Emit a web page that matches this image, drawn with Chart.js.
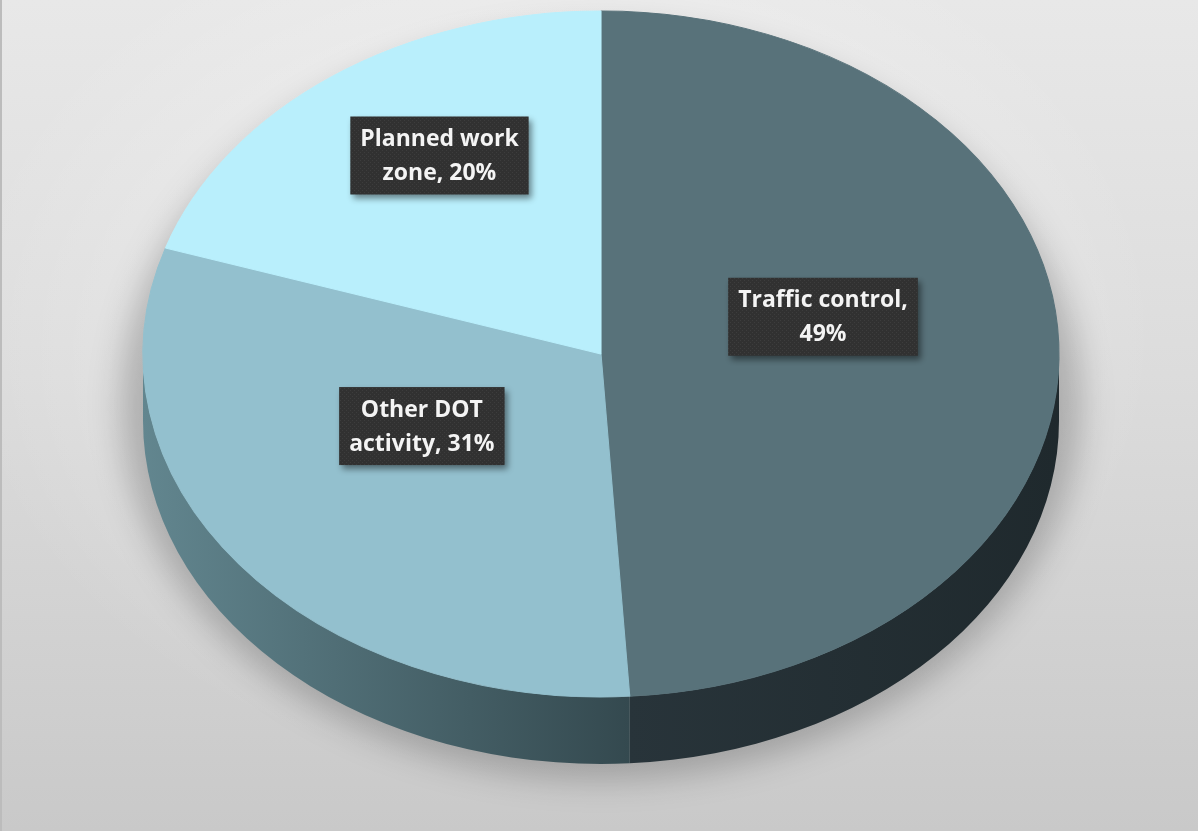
<!DOCTYPE html>
<html>
<head>
<meta charset="utf-8">
<title>Work zone share</title>
<script src="https://cdn.jsdelivr.net/npm/chart.js@4.4.1/dist/chart.umd.min.js"></script>
<style>
  html, body { margin: 0; padding: 0; }
  body {
    width: 1198px; height: 831px; overflow: hidden;
    background:
      radial-gradient(ellipse 600px 450px at 560px 330px, rgba(255,255,255,0.55), rgba(255,255,255,0) 100%),
      linear-gradient(to bottom, #e8e8e8 0%, #dcdcdc 45%, #c9c9c9 100%);
  }
  #wrap { position: relative; width: 1198px; height: 831px; }
  #wrap::before { content: ''; position: absolute; left: 0; top: 0; bottom: 0; width: 2px; background: #bcbcbc; }
</style>
</head>
<body>
<div id="wrap"><canvas id="pie"></canvas></div>
<script>
const categories = ['Traffic control', 'Other DOT activity', 'Planned work zone'];
const shares = [49, 31, 20];
const topColors = ['#58727a', '#93c0ce', '#b9effc'];
const wallColors = [['#28343a', '#1f292d'], ['#62868f', '#34494f'], ['#8fc7d6', '#8fc7d6']];

// top face ellipse and pie thickness (px)
const EX = 601, EY = 354, RX = 458, RY = 343, DEPTH = 67;
// label anchor: fraction of radius along the mid angle, plus a lift for the tilt
const LABEL_FRAC = [0.485, 0.495, 0.6];
const LABEL_LIFT = -32;

const FONT = 'bold 23px "Open Sans", sans-serif';

// dotted fill for the label boxes
const tex = document.createElement('canvas');
tex.width = 4; tex.height = 4;
const tctx = tex.getContext('2d');
tctx.fillStyle = '#313131'; tctx.fillRect(0, 0, 4, 4);
tctx.fillStyle = '#3d3d3d'; tctx.fillRect(0, 0, 1, 1); tctx.fillRect(2, 2, 1, 1);

function drawWall(ctx, a0, a1, fill) {
  // only the front half of the rim shows
  const s = Math.max(a0, 0), e = Math.min(a1, Math.PI);
  if (e <= s) return;
  ctx.beginPath();
  ctx.ellipse(EX, EY, RX, RY, 0, s, e);
  ctx.lineTo(EX + RX * Math.cos(e), EY + DEPTH + RY * Math.sin(e));
  ctx.ellipse(EX, EY + DEPTH, RX, RY, 0, e, s, true);
  ctx.closePath();
  ctx.fillStyle = fill;
  ctx.fill();
}

function wrap(ctx, text, maxW) {
  const words = text.split(' ');
  const lines = [];
  let cur = '';
  for (const w of words) {
    const test = cur ? cur + ' ' + w : w;
    if (cur && ctx.measureText(test).width > maxW) {
      lines.push(cur);
      cur = w;
    } else {
      cur = test;
    }
  }
  if (cur) lines.push(cur);
  return lines;
}

const pie3d = {
  id: 'pie3d',
  beforeDatasetsDraw(chart) {
    const ctx = chart.ctx;
    const arcs = chart.getDatasetMeta(0).data;

    // soft floor shadow
    ctx.save();
    ctx.filter = 'blur(16px)';
    ctx.fillStyle = 'rgba(0,0,0,0.22)';
    ctx.beginPath();
    ctx.ellipse(EX, EY + 50, RX + 22, RY + 32, 0, 0, Math.PI * 2);
    ctx.fill();
    ctx.restore();

    // rim
    arcs.forEach((arc, i) => {
      const p = arc.getProps(['startAngle', 'endAngle'], true);
      const xEnd = EX + RX * Math.cos(Math.min(p.endAngle, Math.PI));
      const xStart = EX + RX * Math.cos(Math.max(p.startAngle, 0));
      const g = ctx.createLinearGradient(Math.min(xStart, xEnd), 0, Math.max(xStart, xEnd), 0);
      g.addColorStop(0, wallColors[i][0]);
      g.addColorStop(1, wallColors[i][1]);
      drawWall(ctx, p.startAngle, p.endAngle, g);
    });

    // squash the round pie onto the top ellipse
    const a = arcs[0];
    ctx.save();
    ctx.translate(EX, EY);
    ctx.scale(RX / a.outerRadius, RY / a.outerRadius);
    ctx.translate(-a.x, -a.y);
  },
  afterDatasetsDraw(chart) {
    const ctx = chart.ctx;
    ctx.restore();

    const arcs = chart.getDatasetMeta(0).data;
    ctx.save();
    ctx.font = FONT;
    arcs.forEach((arc, i) => {
      const p = arc.getProps(['startAngle', 'endAngle'], true);
      const mid = (p.startAngle + p.endAngle) / 2;
      const cx = EX + LABEL_FRAC[i] * RX * Math.cos(mid);
      const cy = EY + LABEL_FRAC[i] * RY * Math.sin(mid) + LABEL_LIFT;
      const lines = wrap(ctx, `${categories[i]}, ${shares[i]}%`, 180);
      const lineH = 34;
      const w = Math.max(...lines.map(l => ctx.measureText(l).width)) + 20;
      const h = lines.length * lineH + 10;

      ctx.save();
      ctx.shadowColor = 'rgba(0,0,0,0.45)';
      ctx.shadowBlur = 6;
      ctx.shadowOffsetX = 3;
      ctx.shadowOffsetY = 4;
      ctx.fillStyle = ctx.createPattern(tex, 'repeat');
      ctx.fillRect(cx - w / 2, cy - h / 2, w, h);
      ctx.restore();

      ctx.fillStyle = '#f4f4f4';
      ctx.textAlign = 'center';
      ctx.textBaseline = 'middle';
      lines.forEach((l, k) => {
        ctx.fillText(l, cx, cy - ((lines.length - 1) * lineH) / 2 + k * lineH + 1);
      });
    });
    ctx.restore();
  }
};

new Chart(document.getElementById('pie'), {
  type: 'pie',
  data: {
    labels: categories,
    datasets: [{
      data: shares,
      backgroundColor: topColors,
      borderColor: topColors,
      borderWidth: 1,
      clip: false
    }]
  },
  options: {
    responsive: true,
    maintainAspectRatio: false,
    animation: false,
    layout: { padding: 0 },
    plugins: {
      legend: { display: false },
      tooltip: { enabled: false }
    }
  },
  plugins: [pie3d]
});
</script>
</body>
</html>
